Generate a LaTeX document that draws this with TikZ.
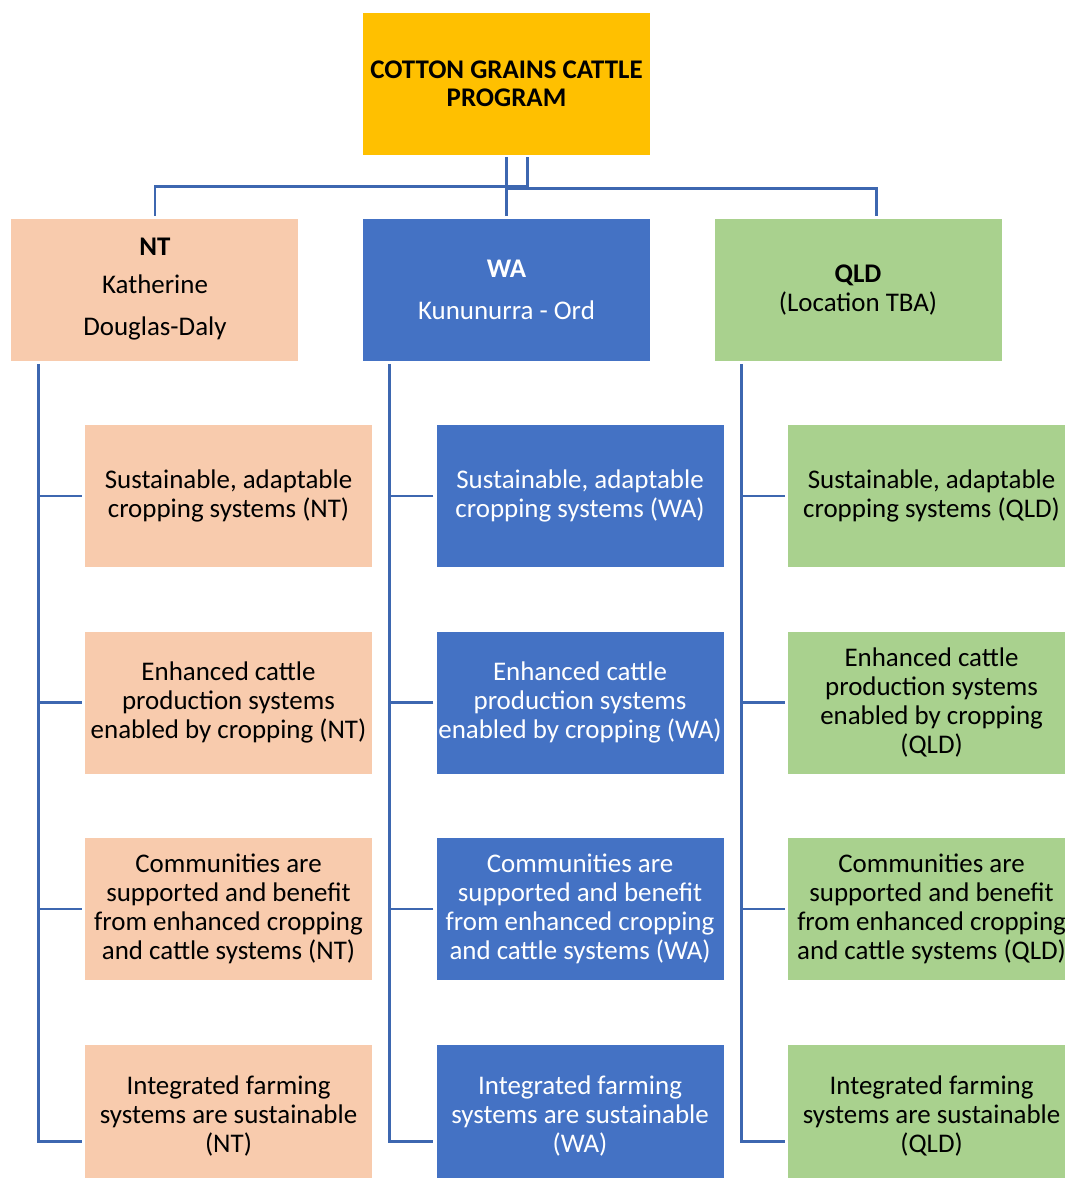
\documentclass[tikz,border=0pt]{standalone}
\usepackage{fontspec}
\setmainfont{Carlito}
\usetikzlibrary{positioning}
\definecolor{gold}{HTML}{FFC000}
\definecolor{peach}{HTML}{F8CBAD}
\definecolor{ablue}{HTML}{4472C4}
\definecolor{agreen}{HTML}{A9D18E}
\begin{document}
\begin{tikzpicture}[
		x=0.75pt, y=-0.75pt
		,node distance=48pt
		,box/.style={minimum width=215.25pt, minimum height=106.5pt, inner sep=0pt, align=center, font=\fontsize{20.2}{21.75}\selectfont}
		,g/.style={box, fill=gold, font=\fontsize{20.2}{21}\selectfont\bfseries}
		,nt/.style={box, fill=peach}
		,wa/.style={box, fill=ablue, text=white}
		,qld/.style={box, fill=agreen}
		,conn/.style={draw=ablue!90!black, line width=2pt}
	]
		\useasboundingbox (0,0) rectangle (1064,1178);
		% top of the chart
		\node [g] (top) at (506.5,84) {COTTON GRAINS CATTLE\\PROGRAM};
		\node [wa, below=47.25pt of top] (WA) {\textbf{WA}\\[9.75pt]Kununurra - Ord};
		\node [nt, left=of WA] (NT) {\textbf{NT}\\[6.75pt]Katherine\\[9.75pt]Douglas-Daly};
		\node [qld, right=of WA] (QLD) {\textbf{QLD}\\(Location TBA)};
		% NT column
		\node [nt] (NT1) at (228.5,496) {Sustainable, adaptable\\cropping systems (NT)};
		\node [nt, below=of NT1] (NT2) {Enhanced cattle\\production systems\\enabled by cropping (NT)};
		\node [nt, below=of NT2] (NT3) {Communities are\\supported and benefit\\from enhanced cropping\\and cattle systems (NT)};
		\node [nt, below=of NT3] (NT4) {Integrated farming\\systems are sustainable\\(NT)};
		% WA column
		\node [wa, right=of NT1] (WA1) {Sustainable, adaptable\\cropping systems (WA)};
		\node [wa, below=of WA1] (WA2) {Enhanced cattle\\production systems\\enabled by cropping (WA)};
		\node [wa, below=of WA2] (WA3) {Communities are\\supported and benefit\\from enhanced cropping\\and cattle systems (WA)};
		\node [wa, below=of WA3] (WA4) {Integrated farming\\systems are sustainable\\(WA)};
		% QLD column
		\node [qld, right=of WA1] (QLD1) {Sustainable, adaptable\\cropping systems (QLD)};
		\node [qld, below=of QLD1] (QLD2) {Enhanced cattle\\production systems\\enabled by cropping\\(QLD)};
		\node [qld, below=of QLD2] (QLD3) {Communities are\\supported and benefit\\from enhanced cropping\\and cattle systems (QLD)};
		\node [qld, below=of QLD3] (QLD4) {Integrated farming\\systems are sustainable\\(QLD)};
		% connectors
		\coordinate (hl) at ([yshift=-23.25pt]top.south);
		\draw [conn] ([xshift=15.75pt,yshift=-1.5pt]top.south) |- (hl -| NT.north) -- ([yshift=1.5pt]NT.north);
		\draw [conn] ([yshift=-1.5pt]top.south) -- ([yshift=1.5pt]WA.north);
		\draw [conn] ([yshift=-1.5pt]hl) -| ([xshift=14pt,yshift=1.5pt]QLD.north);
		\foreach \c in {NT,WA,QLD} {
			\coordinate (\c t) at ([xshift=20.25pt,yshift=-2.25pt]\c.south west);
			\draw [conn] (\c t) |- ([xshift=-2.25pt,yshift=-19.5pt]\c4.west);
			\foreach \i in {1,2,3}
				\draw [conn] ([xshift=-2.25pt]\c\i.west) -- (\c\i.west -| \c t);
		}
	\end{tikzpicture}
\end{document}
